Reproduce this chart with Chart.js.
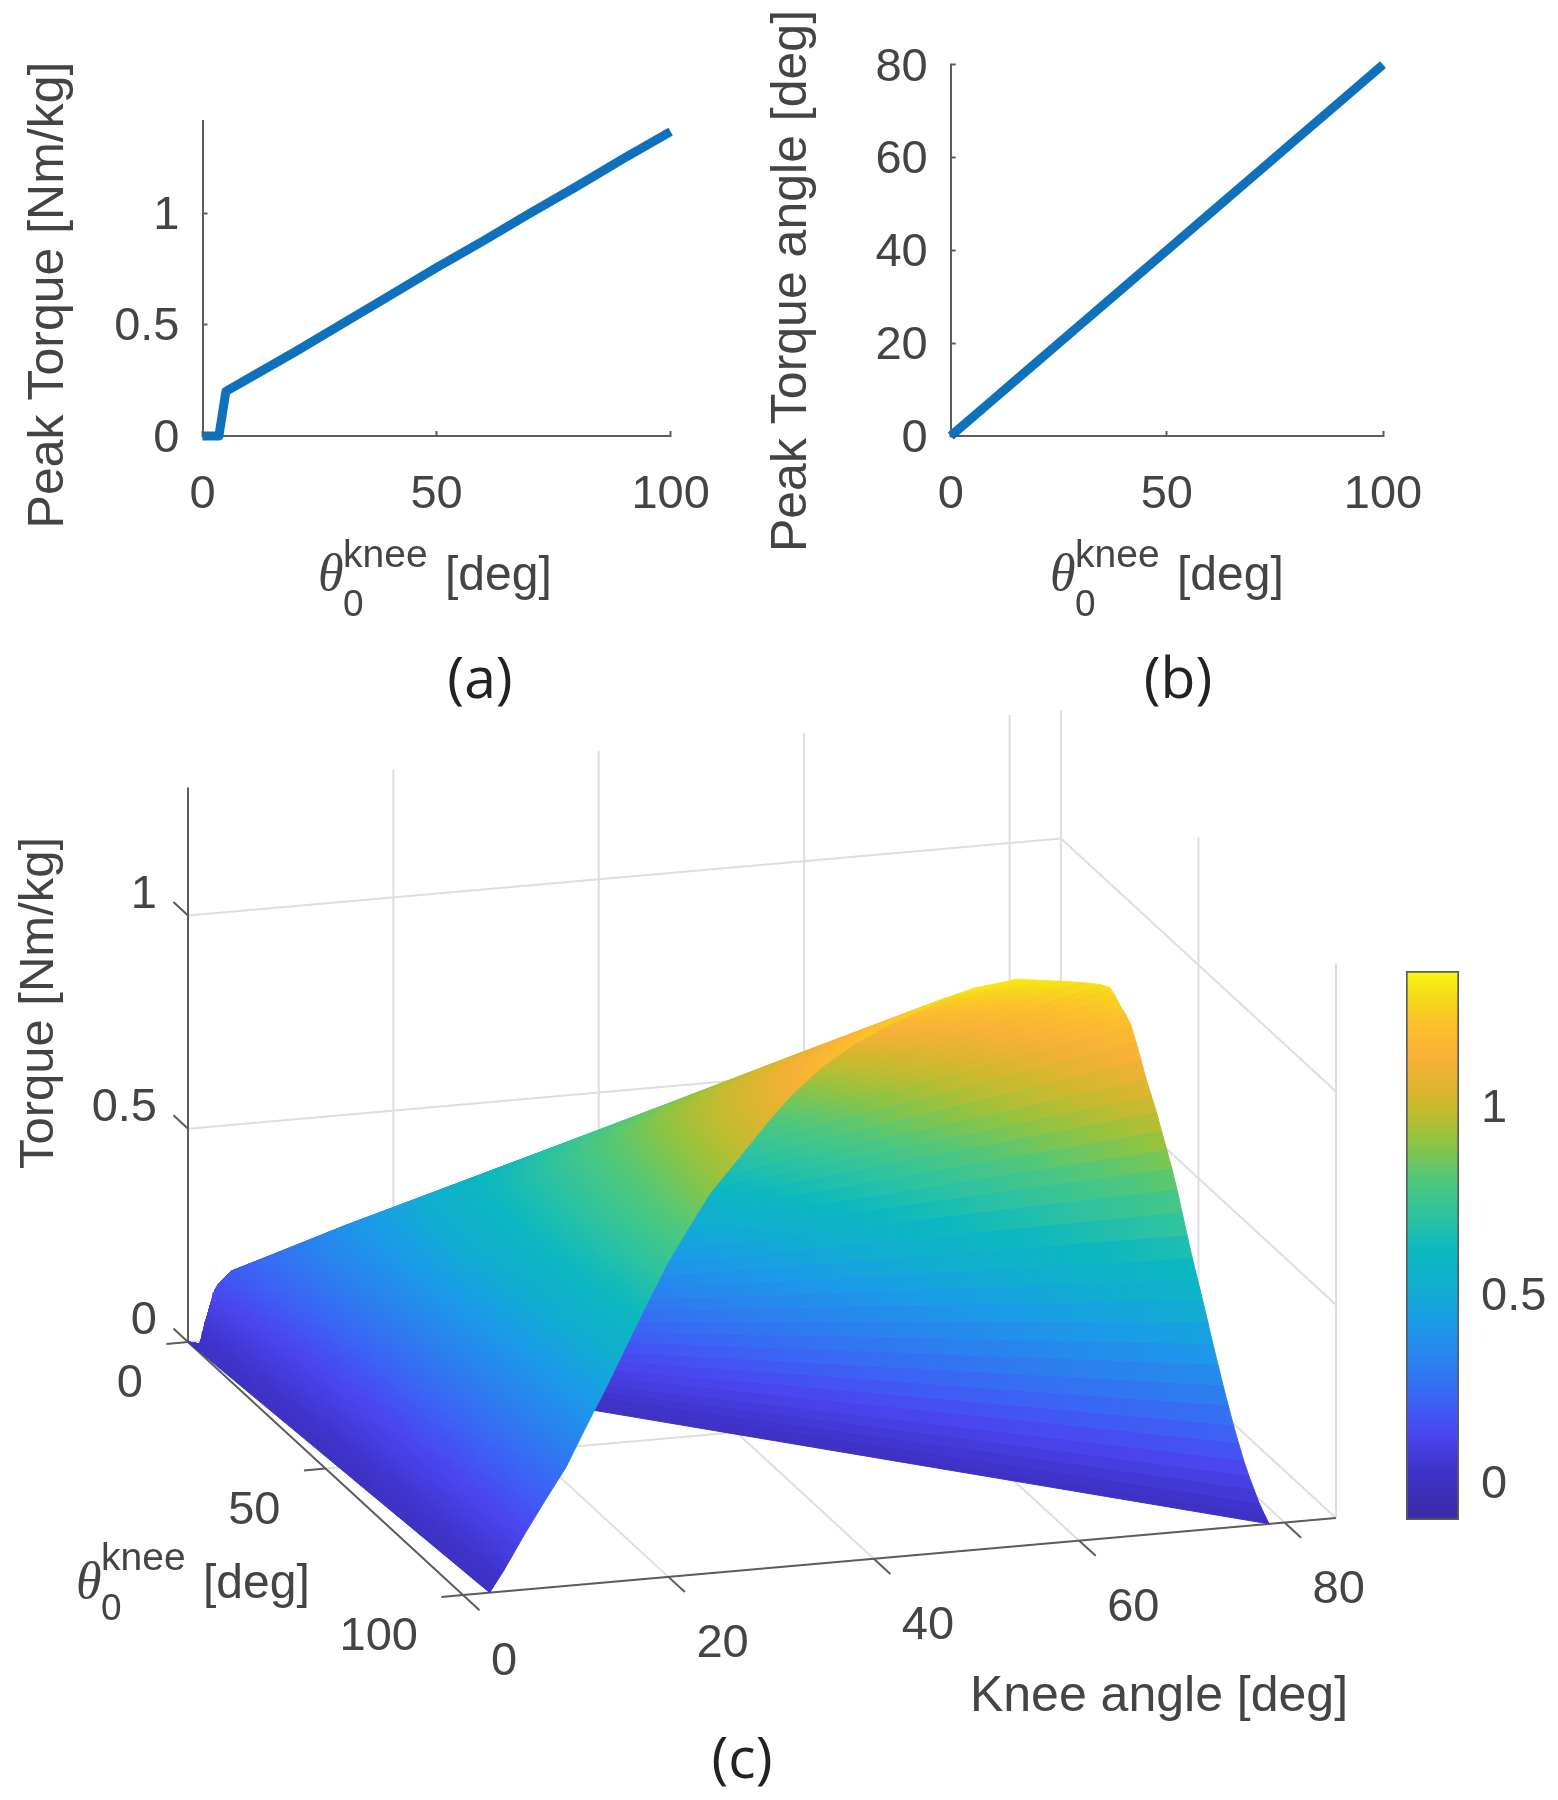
<!DOCTYPE html>
<html>
<head>
<meta charset="utf-8">
<title>Knee torque</title>
<script src="https://cdn.jsdelivr.net/npm/chart.js@4/dist/chart.umd.min.js"></script>
<style>
  body { margin: 0; background: #fff; width: 1558px; height: 1800px; overflow: hidden; }
  canvas { position: absolute; }
  #panelA { left: 0; top: 0; }
  #panelB { left: 740px; top: 0; }
  #panelC { left: 0; top: 700px; }
  #colorBar { left: 1390px; top: 950px; }
</style>
</head>
<body>
<canvas id="panelC" width="1558" height="1100"></canvas>
<canvas id="panelA" width="780" height="720"></canvas>
<canvas id="panelB" width="818" height="720"></canvas>
<canvas id="colorBar" width="168" height="590"></canvas>

<script>
// panel (a)
const restAngleA = [0, 3.5, 5, 10, 20, 30, 40, 50, 60, 70, 80, 90, 100];
const peakTorque = [0, 0, 0.2, 0.26, 0.38, 0.505, 0.63, 0.755, 0.875, 1.0, 1.12, 1.245, 1.365];
const peakTorqueTicks = [0, 0.5, 1];

// panel (b)
const restAngleB = [0, 10, 20, 30, 40, 50, 60, 70, 80, 90, 100];
const peakAngle = [0, 8, 16, 24, 32, 40, 48, 56, 64, 72, 80];
const peakAngleTicks = [0, 20, 40, 60, 80];
const restAngleTicks = [0, 50, 100];

// panel (c): rows are rest angles, columns are the knee angle as a fraction of the rest angle
const surfaceRestAngle = [0, 2.6, 3.4, 4.3, 5.5, 20, 40, 60, 80, 100];
const surfaceKneeFraction = [0.026, 0.04, 0.06, 0.08, 0.10, 0.12, 0.14, 0.16, 0.18, 0.20, 0.22, 0.24, 0.26, 0.28, 0.30, 0.32, 0.35, 0.38, 0.41, 0.44, 0.47, 0.50, 0.54, 0.58, 0.60, 0.62, 0.63, 0.635, 0.64, 0.645, 0.65, 0.655, 0.66, 0.665, 0.67, 0.675, 0.68, 0.685, 0.69, 0.695, 0.70, 0.705, 0.71, 0.715, 0.72, 0.725, 0.73, 0.735, 0.74, 0.745, 0.75, 0.755, 0.76, 0.765, 0.77, 0.775, 0.78, 0.785];
const surfaceTorque = [
  [0, 0, 0, 0, 0, 0, 0, 0, 0, 0, 0, 0, 0, 0, 0, 0, 0, 0, 0, 0, 0, 0, 0, 0, 0, 0, 0, 0, 0, 0, 0, 0, 0, 0, 0, 0, 0, 0, 0, 0, 0, 0, 0, 0, 0, 0, 0, 0, 0, 0, 0, 0, 0, 0, 0, 0, 0, 0],
  [0, 0, 0, 0, 0, 0, 0, 0, 0, 0, 0, 0, 0, 0, 0, 0, 0, 0, 0, 0, 0, 0, 0, 0, 0, 0, 0, 0, 0, 0, 0, 0, 0, 0, 0, 0, 0, 0, 0, 0, 0, 0, 0, 0, 0, 0, 0, 0, 0, 0, 0, 0, 0, 0, 0, 0, 0, 0],
  [0, .004, .010, .015, .021, .028, .035, .042, .049, .056, .061, .067, .071, .075, .079, .083, .087, .091, .093, .095, .098, .099, .100, .099, .098, .098, .097, .095, .093, .092, .090, .087, .084, .080, .077, .074, .071, .068, .064, .060, .056, .052, .048, .044, .041, .037, .033, .029, .025, .022, .018, .015, .012, .009, .006, .004, .002, 0],
  [0, .006, .016, .026, .035, .046, .058, .069, .081, .093, .102, .111, .118, .125, .132, .138, .146, .151, .156, .159, .163, .165, .166, .165, .164, .163, .161, .159, .156, .153, .150, .145, .139, .134, .129, .124, .118, .113, .107, .101, .094, .087, .080, .074, .068, .061, .054, .048, .042, .036, .030, .025, .019, .015, .011, .007, .003, 0],
  [0, .007, .019, .030, .041, .054, .067, .081, .095, .108, .120, .130, .138, .147, .155, .162, .171, .177, .182, .186, .190, .193, .195, .193, .192, .190, .189, .186, .182, .179, .176, .170, .163, .157, .151, .145, .138, .132, .125, .118, .110, .102, .094, .086, .079, .071, .064, .056, .049, .042, .035, .029, .023, .017, .012, .008, .004, 0],
  [0, .014, .037, .058, .078, .104, .129, .156, .183, .208, .230, .250, .266, .281, .297, .311, .328, .340, .350, .358, .366, .371, .374, .370, .368, .366, .363, .357, .350, .345, .338, .326, .314, .301, .290, .278, .266, .253, .241, .226, .211, .196, .180, .166, .152, .137, .122, .108, .094, .081, .068, .055, .044, .033, .024, .015, .007, 0],
  [0, .023, .060, .094, .128, .170, .212, .256, .300, .341, .376, .410, .435, .461, .486, .509, .537, .558, .574, .586, .599, .607, .612, .606, .603, .599, .594, .585, .574, .564, .553, .535, .514, .493, .475, .456, .435, .415, .394, .371, .346, .320, .295, .272, .249, .225, .200, .177, .154, .132, .111, .091, .071, .054, .039, .024, .012, 0],
  [0, .032, .083, .131, .177, .237, .295, .355, .416, .474, .522, .570, .605, .640, .676, .708, .746, .775, .797, .814, .832, .844, .851, .843, .838, .832, .826, .813, .797, .784, .768, .743, .714, .685, .660, .634, .605, .576, .547, .515, .480, .445, .410, .378, .346, .312, .279, .247, .214, .184, .154, .126, .099, .076, .054, .033, .016, 0],
  [0, .041, .107, .168, .227, .304, .377, .455, .533, .607, .670, .730, .775, .821, .866, .907, .956, .993, 1.022, 1.044, 1.067, 1.081, 1.090, 1.080, 1.074, 1.067, 1.058, 1.042, 1.022, 1.005, .985, .952, .915, .878, .845, .812, .775, .738, .702, .661, .615, .570, .525, .484, .443, .400, .357, .316, .275, .235, .197, .162, .127, .097, .070, .043, .021, 0],
  [0, .05, .13, .205, .277, .37, .46, .555, .65, .74, .816, .89, .945, 1.0, 1.055, 1.105, 1.165, 1.21, 1.245, 1.272, 1.30, 1.318, 1.329, 1.316, 1.309, 1.30, 1.29, 1.27, 1.245, 1.225, 1.20, 1.16, 1.115, 1.07, 1.03, .99, .945, .90, .855, .805, .75, .695, .64, .59, .54, .488, .435, .385, .335, .287, .24, .197, .155, .118, .085, .052, .025, 0]
];
const kneeTicks = [0, 20, 40, 60, 80];
const surfaceRestTicks = [0, 50, 100];
const torqueTicks = [0, 0.5, 1];
const colorBarTicks = [0, 0.5, 1];

// colour map, bottom to top of the colour bar
const colorLimits = [-0.1, 1.36];
const colorPositions = [0, 0.093, 0.16, 0.225, 0.29, 0.36, 0.425, 0.49, 0.556, 0.622, 0.69, 0.74, 0.79, 0.835, 0.9, 0.954, 1];
const colorValues = ["#3b2ba5", "#3f33cc", "#4a46f0", "#3a66f5", "#2a82ee", "#1a9ce8", "#10aecf", "#0cb8c0", "#2ec3a0", "#50c87a", "#90c440", "#c0bc30", "#dfb52e", "#f8b038", "#fdbf2c", "#f5dc18", "#f8f810"];

const TEXT_COLOR = "#444";
const AXIS_COLOR = "#5c5c5c";
const GRID_COLOR = "#dedede";
const LINE_COLOR = "#0f70bb";
const SANS = '"Liberation Sans"';
const STRIPE_FROM = 0.6; // the far slope of the surface shows bands in the reference

Chart.defaults.animation = false;
Chart.defaults.events = [];
Chart.defaults.plugins.legend.display = false;
Chart.defaults.plugins.tooltip.enabled = false;
Chart.defaults.font.family = SANS;

function drawText(ctx, text, x, y, font, align, rotate) {
  ctx.save();
  ctx.translate(x, y);
  if (rotate) ctx.rotate(rotate);
  ctx.font = font;
  ctx.fillStyle = TEXT_COLOR;
  ctx.textAlign = align || "center";
  ctx.textBaseline = "alphabetic";
  ctx.fillText(text, 0, 0);
  ctx.restore();
}

// theta_0^knee [deg], x is the left side of the theta and y the text baseline
function drawThetaLabel(ctx, x, y, supUp, subDown) {
  drawText(ctx, "\u03b8", x, y, 'italic 52px "Liberation Serif"', "left");
  drawText(ctx, "knee", x + 25, y - supUp, "39px " + SANS, "left");
  drawText(ctx, "0", x + 25, y + subDown, "37px " + SANS, "left");
  drawText(ctx, "[deg]", x + 127, y, "48px " + SANS, "left");
}

function drawCaption(ctx, text, x, y) {
  ctx.save();
  ctx.fillStyle = "#222";
  ctx.font = '57px "Open Sans"';
  ctx.textAlign = "center";
  ctx.fillText(text, x, y);
  ctx.restore();
}

function renderPanel(id, box, xs, ys, yTicks, yMax, drawLabels) {
  const ctx = document.getElementById(id);
  new Chart(ctx, {
    type: "line",
    data: {
      datasets: [
        {
          data: xs.map((x, i) => ({ x: x, y: ys[i] })),
          borderColor: LINE_COLOR,
          borderWidth: 9,
          borderJoinStyle: "round",
          pointRadius: 0,
          tension: 0,
          clip: false,
        },
      ],
    },
    options: {
      responsive: false,
      layout: { padding: { top: box.top, right: ctx.width - box.right } },
      scales: {
        x: {
          type: "linear",
          min: 0,
          max: 100,
          afterBuildTicks: (s) => (s.ticks = restAngleTicks.map((v) => ({ value: v }))),
          afterFit: (s) => {
            s.height = ctx.height - box.bottom;
            s.paddingLeft = 0;
            s.paddingRight = 0;
          },
          border: { color: AXIS_COLOR, width: 2 },
          grid: { drawOnChartArea: false, tickLength: -5, tickColor: AXIS_COLOR, tickWidth: 2 },
          ticks: { color: TEXT_COLOR, font: { size: 47 }, padding: box.xPad, maxRotation: 0, callback: (v) => String(v) },
        },
        y: {
          type: "linear",
          min: 0,
          max: yMax,
          afterBuildTicks: (s) => (s.ticks = yTicks.map((v) => ({ value: v }))),
          afterFit: (s) => {
            s.width = box.left;
            s.paddingTop = 0;
            s.paddingBottom = 0;
          },
          border: { color: AXIS_COLOR, width: 2 },
          grid: { drawOnChartArea: false, tickLength: -5, tickColor: AXIS_COLOR, tickWidth: 2 },
          ticks: { color: TEXT_COLOR, font: { size: 47 }, padding: box.yPad, labelOffset: 3, callback: (v) => String(v) },
        },
      },
    },
    plugins: [{ id: "labels", afterDraw: (chart) => drawLabels(chart.ctx) }],
  });
}

renderPanel("panelA", { left: 202.5, right: 670.6, top: 120.5, bottom: 436, xPad: 36, yPad: 28 },
  restAngleA, peakTorque, peakTorqueTicks, 1.415, function (c) {
    drawText(c, "Peak Torque [Nm/kg]", 63, 295, "50px " + SANS, "center", -Math.PI / 2);
    drawThetaLabel(c, 318, 590, 23, 26);
    drawCaption(c, "(a)", 480, 698);
  });

renderPanel("panelB", { left: 210.7, right: 643, top: 64.7, bottom: 436, xPad: 36, yPad: 28 },
  restAngleB, peakAngle, peakAngleTicks, 80, function (c) {
    drawText(c, "Peak Torque angle [deg]", 66, 281, "50px " + SANS, "center", -Math.PI / 2);
    drawThetaLabel(c, 310, 590, 23, 26);
    drawCaption(c, "(b)", 438, 698);
  });

// projection of the 3D axes onto the page, knee angle / rest angle / torque
const view = { x0: 188, y0: 1342, kneeX: 10.27, kneeY: -0.906, restX: 2.75, restY: 2.53, torqueY: -426.5 };
const KNEE_MAX = 85;
const REST_MAX = 100;
const TORQUE_TOP = 1.3;

function project(knee, rest, torque) {
  return {
    x: view.x0 + knee * view.kneeX + rest * view.restX,
    y: view.y0 + knee * view.kneeY + rest * view.restY + torque * view.torqueY,
  };
}

function colorAt(z) {
  const t = Math.min(1, Math.max(0, (z - colorLimits[0]) / (colorLimits[1] - colorLimits[0])));
  let i = 0;
  while (i < colorPositions.length - 2 && t > colorPositions[i + 1]) i++;
  const f = (t - colorPositions[i]) / (colorPositions[i + 1] - colorPositions[i]);
  const a = colorValues[i];
  const b = colorValues[i + 1];
  const mix = (p) => Math.round(parseInt(a.substr(p, 2), 16) * (1 - f) + parseInt(b.substr(p, 2), 16) * f);
  return `rgb(${mix(1)},${mix(3)},${mix(5)})`;
}

function gradientAlong(ctx, x1, y1, x2, y2, z1, z2) {
  const g = ctx.createLinearGradient(x1, y1, x2, y2);
  for (let s = 0; s <= 6; s++) g.addColorStop(s / 6, colorAt(z1 + ((z2 - z1) * s) / 6));
  return g;
}

// bands: flat across the columns, the colour only runs from one row to the next
function bandShade(ctx, pts, zs) {
  return gradientAlong(ctx,
    (pts[0].x + pts[1].x) / 2, (pts[0].y + pts[1].y) / 2,
    (pts[2].x + pts[3].x) / 2, (pts[2].y + pts[3].y) / 2,
    (zs[0] + zs[1]) / 2, (zs[2] + zs[3]) / 2);
}

// smooth: fit a plane z(x, y) through the four corners and run the gradient down its slope
function smoothShade(ctx, pts, zs) {
  const cx = pts.reduce((a, p) => a + p.x, 0) / 4;
  const cy = pts.reduce((a, p) => a + p.y, 0) / 4;
  const cz = zs.reduce((a, z) => a + z, 0) / 4;
  let sxx = 0, sxy = 0, syy = 0, sxz = 0, syz = 0;
  pts.forEach((p, i) => {
    const dx = p.x - cx;
    const dy = p.y - cy;
    const dz = zs[i] - cz;
    sxx += dx * dx;
    sxy += dx * dy;
    syy += dy * dy;
    sxz += dx * dz;
    syz += dy * dz;
  });
  const det = sxx * syy - sxy * sxy;
  if (det < 1e-6 * (sxx + syy) * (sxx + syy)) return bandShade(ctx, pts, zs);
  const a = (syy * sxz - sxy * syz) / det;
  const b = (sxx * syz - sxy * sxz) / det;
  const n = a * a + b * b;
  if (n === 0) return colorAt(cz);
  const zMin = Math.min(...zs);
  const zMax = Math.max(...zs);
  return gradientAlong(ctx,
    cx + (a * (zMin - cz)) / n, cy + (b * (zMin - cz)) / n,
    cx + (a * (zMax - cz)) / n, cy + (b * (zMax - cz)) / n,
    zMin, zMax);
}

function buildPanelC() {
  const datasets = [];

  function addLine(points, color, width) {
    datasets.push({
      data: points.map((p) => project(p[0], p[1], p[2])),
      borderColor: color,
      borderWidth: width,
      pointRadius: 0,
      tension: 0,
      order: -datasets.length,
    });
  }

  // back wall, side wall and floor grid
  [20, 40, 60, 80, KNEE_MAX].forEach((k) => addLine([[k, 0, 0], [k, 0, TORQUE_TOP]], GRID_COLOR, 2));
  [50, REST_MAX].forEach((r) => addLine([[KNEE_MAX, r, 0], [KNEE_MAX, r, TORQUE_TOP]], GRID_COLOR, 2));
  torqueTicks.forEach((z) => {
    addLine([[0, 0, z], [KNEE_MAX, 0, z]], GRID_COLOR, 2);
    addLine([[KNEE_MAX, 0, z], [KNEE_MAX, REST_MAX, z]], GRID_COLOR, 2);
  });
  [20, 40, 60, 80].forEach((k) => addLine([[k, 0, 0], [k, REST_MAX, 0]], GRID_COLOR, 2));
  addLine([[0, 50, 0], [KNEE_MAX, 50, 0]], GRID_COLOR, 2);

  // axes with their ticks
  addLine([[0, 0, 0], [0, 0, TORQUE_TOP]], AXIS_COLOR, 2);
  addLine([[0, 0, 0], [0, REST_MAX, 0]], AXIS_COLOR, 2);
  addLine([[0, REST_MAX, 0], [KNEE_MAX, REST_MAX, 0]], AXIS_COLOR, 2);
  kneeTicks.forEach((k) => addLine([[k, REST_MAX, 0], [k, REST_MAX + 6, 0]], AXIS_COLOR, 2));
  surfaceRestTicks.forEach((r) => addLine([[0, r, 0], [-2.1, r, 0]], AXIS_COLOR, 2));
  torqueTicks.forEach((z) => addLine([[0, 0, z], [0, -5.3, z]], AXIS_COLOR, 2));

  // surface: far rows first and inside a row the largest fraction first, so nearer cells paint over
  for (let i = 0; i < surfaceRestAngle.length - 1; i++) {
    for (let j = surfaceKneeFraction.length - 2; j >= 0; j--) {
      const corner = (row, col) => project(surfaceKneeFraction[col] * surfaceRestAngle[row], surfaceRestAngle[row], surfaceTorque[row][col]);
      const p = [corner(i, j), corner(i, j + 1), corner(i + 1, j + 1), corner(i + 1, j), corner(i, j)];
      const zs = [surfaceTorque[i][j], surfaceTorque[i][j + 1], surfaceTorque[i + 1][j + 1], surfaceTorque[i + 1][j]];
      const banded = surfaceKneeFraction[j] >= STRIPE_FROM;
      const shade = (c) => {
        const sx = c.chart.scales.x;
        const sy = c.chart.scales.y;
        const pts = p.slice(0, 4).map((q) => ({ x: sx.getPixelForValue(q.x), y: sy.getPixelForValue(q.y) }));
        // scales have no pixels yet on the first option pass
        if (!pts.every((q) => Number.isFinite(q.x) && Number.isFinite(q.y))) return colorAt(zs[0]);
        return banded ? bandShade(c.chart.ctx, pts, zs) : smoothShade(c.chart.ctx, pts, zs);
      };
      datasets.push({
        data: p,
        fill: "shape",
        backgroundColor: shade,
        borderColor: shade,
        borderWidth: 1,
        pointRadius: 0,
        tension: 0,
        order: -datasets.length,
      });
    }
  }
  return datasets;
}

function drawPanelCLabels(chart) {
  const c = chart.ctx;
  const sx = chart.scales.x;
  const sy = chart.scales.y;
  const px = (p) => ({ x: sx.getPixelForValue(p.x), y: sy.getPixelForValue(p.y) });
  const font = "47px " + SANS;

  torqueTicks.forEach((z) => {
    const p = px(project(0, 0, z));
    drawText(c, String(z), p.x - 31, p.y - 8, font, "right");
  });
  surfaceRestTicks.forEach((r) => {
    const p = px(project(0, r, 0));
    drawText(c, String(r), p.x - 45, p.y + 55, font, "right");
  });
  kneeTicks.forEach((k) => {
    const p = px(project(k, REST_MAX, 0));
    drawText(c, String(k), p.x + 28, p.y + 80, font, "left");
  });

  drawText(c, "Torque [Nm/kg]", 53, 1003 - 700, "49px " + SANS, "center", -Math.PI / 2);
  drawText(c, "Knee angle [deg]", 1159, 1711 - 700, "50px " + SANS);
  drawThetaLabel(c, 76, 1598 - 700, 28, 22);
  drawCaption(c, "(c)", 742, 1778 - 700);
}

new Chart(document.getElementById("panelC"), {
  type: "line",
  data: { datasets: buildPanelC() },
  options: {
    responsive: false,
    scales: {
      x: { type: "linear", display: false, min: 0, max: 1558 },
      y: { type: "linear", display: false, min: 700, max: 1800, reverse: true },
    },
  },
  plugins: [{ id: "labels", afterDraw: drawPanelCLabels }],
});

new Chart(document.getElementById("colorBar"), {
  type: "bar",
  data: {
    labels: [""],
    datasets: [
      {
        data: [colorLimits],
        barPercentage: 1,
        categoryPercentage: 1,
        borderColor: AXIS_COLOR,
        borderWidth: 2,
        borderSkipped: false,
        backgroundColor: (c) => {
          const y = c.chart.scales.y;
          const y1 = y.getPixelForValue(colorLimits[0]);
          const y2 = y.getPixelForValue(colorLimits[1]);
          if (!Number.isFinite(y1) || !Number.isFinite(y2)) return colorValues[0];
          const g = c.chart.ctx.createLinearGradient(0, y1, 0, y2);
          colorPositions.forEach((t, i) => g.addColorStop(t, colorValues[i]));
          return g;
        },
      },
    ],
  },
  options: {
    responsive: false,
    layout: { padding: { left: 16, top: 21, bottom: 20 } },
    scales: {
      x: { display: false },
      y: {
        position: "right",
        min: colorLimits[0],
        max: colorLimits[1],
        afterBuildTicks: (s) => (s.ticks = colorBarTicks.map((v) => ({ value: v }))),
        afterFit: (s) => {
          s.width = 99;
          s.paddingTop = 0;
          s.paddingBottom = 0;
        },
        border: { display: false },
        grid: { drawOnChartArea: false, tickLength: -5, tickColor: "#444", tickWidth: 2 },
        ticks: { color: TEXT_COLOR, font: { size: 47 }, padding: 27, labelOffset: 3, callback: (v) => String(v) },
      },
    },
  },
});
</script>
</body>
</html>
